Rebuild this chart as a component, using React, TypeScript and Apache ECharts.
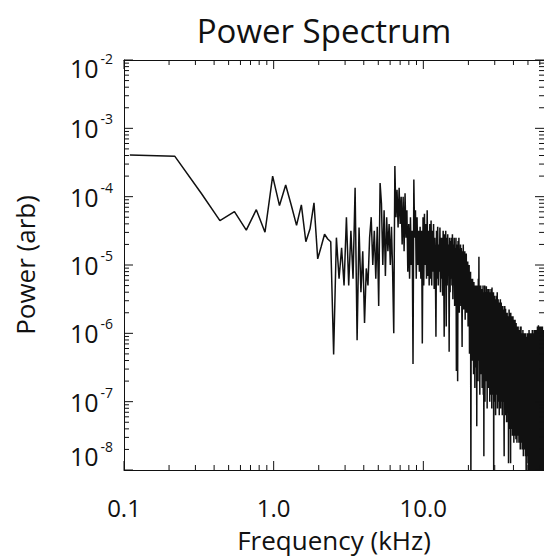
import React, { useEffect, useRef } from "react";
import * as echarts from "echarts";

// Frequency resolution of the spectrum (kHz per bin); bin k sits at k * FREQ_STEP_KHZ
const FREQ_STEP_KHZ = 0.109375;

// log10 of the power (arb) for bins 1..585
const logPower: number[] = [
  // 1-12
  -3.39, -3.41, -3.95, -4.35, -4.22, -4.49, -4.19, -4.52, -3.7, -4.13, -3.83, -4.13,
  // 13-21
  -4.42, -4.12, -4.66, -4.47, -4.09, -4.91, -4.73, -4.55, -4.62,
  // 22-30
  -4.66, -6.31, -4.6, -5.2, -4.75, -5.3, -4.3, -5.3, -4.5,
  // 31-40
  -5.2, -3.87, -6.1, -4.45, -5.4, -4.8, -5.85, -5.05, -5.3, -4.6,
  // 41-50
  -4.3, -5.0, -4.5, -5.2, -4.44, -5.6, -3.8, -4.1, -5.0, -4.2,
  // 51-60
  -5.16, -4.3, -4.8, -4.4, -5.0, -4.44, -5.1, -6.0, -3.55, -4.3,
  // 61-70
  -3.9, -4.45, -3.87, -4.4, -4.0, -4.7, -4.0, -4.8, -3.95, -4.6,
  // 71-80
  -4.2, -5.1, -4.4, -5.2, -4.3, -5.0, -4.5, -6.45, -3.75, -4.6,
  // 81-90
  -4.2, -5.2, -4.3, -5.0, -4.5, -5.1, -4.44, -5.2, -4.5, -6.15,
  // 91-100
  -4.3, -5.3, -4.25, -5.0, -4.4, -5.2, -4.2, -5.16, -4.5, -5.3,
  // 101-110
  -4.4, -5.2, -4.35, -5.3, -4.5, -5.1, -4.4, -5.35, -4.6, -5.0,
  // 111-120
  -6.05, -4.5, -5.2, -4.44, -5.3, -4.7, -5.1, -4.45, -5.4, -4.6,
  // 121-130
  -5.2, -4.6, -5.45, -4.5, -5.0, -6.05, -4.55, -5.3, -4.5, -5.9,
  // 131-140
  -4.6, -5.3, -4.55, -5.1, -4.7, -6.27, -4.6, -5.4, -4.65, -5.2,
  // 141-150
  -4.6, -5.3, -4.55, -5.5, -4.7, -5.2, -4.6, -5.6, -4.75, -5.3,
  // 151-160
  -4.6, -6.55, -4.7, -5.4, -6.7, -4.65, -5.5, -4.6, -5.7, -4.8,
  // 161-170
  -5.3, -4.7, -5.6, -4.75, -5.4, -6.2, -4.8, -5.5, -4.7, -5.65,
  // 171-180
  -4.85, -5.3, -4.8, -5.8, -4.9, -5.4, -4.83, -5.7, -5.0, -5.5,
  // 181-190
  -4.95, -5.9, -5.1, -5.6, -5.0, -6.3, -5.15, -5.7, -5.1, -8.3,
  // 191-200
  -5.2, -6.0, -5.3, -6.4, -5.2, -6.1, -5.35, -6.6, -5.25, -6.2,
  // 201-210
  -5.3, -6.8, -5.4, -6.3, -5.3, -6.5, -5.4, -7.36, -5.3, -6.2,
  // 211-220
  -5.35, -6.7, -5.2, -6.0, -4.88, -6.4, -5.3, -6.9, -5.4, -6.3,
  // 221-230
  -5.3, -6.6, -5.4, -6.2, -5.35, -6.8, -5.5, -6.4, -5.3, -6.9,
  // 231-240
  -5.4, -7.8, -5.45, -6.5, -5.3, -7.0, -5.5, -6.4, -5.4, -6.7,
  // 241-250
  -5.31, -6.3, -5.5, -7.1, -5.4, -6.5, -5.35, -6.8, -5.5, -6.6,
  // 251-260
  -5.35, -6.6, -5.5, -7.0, -5.4, -6.4, -5.5, -6.9, -5.35, -6.5,
  // 261-270
  -5.6, -7.1, -5.33, -6.7, -5.5, -6.9, -5.6, -6.5, -5.4, -8.3,
  // 271-280
  -5.5, -6.8, -5.6, -7.0, -5.45, -6.6, -5.6, -7.2, -5.5, -6.7,
  // 281-290
  -5.7, -6.9, -5.45, -6.5, -5.4, -7.1, -5.6, -6.8, -5.5, -7.0,
  // 291-300
  -5.7, -6.6, -5.55, -7.2, -5.6, -6.9, -5.7, -6.7, -5.5, -7.1,
  // 301-310
  -5.65, -6.8, -5.55, -7.0, -5.7, -6.6, -5.6, -7.2, -5.75, -6.9,
  // 311-320
  -5.6, -7.0, -5.8, -6.7, -5.65, -7.3, -7.8, -5.7, -6.8, -5.6,
  // 321-330
  -7.1, -5.8, -6.9, -5.64, -7.2, -5.8, -6.8, -5.7, -7.3, -5.85,
  // 331-340
  -6.9, -5.7, -7.1, -5.9, -6.8, -5.75, -7.3, -5.8, -7.9, -5.9,
  // 341-350
  -7.2, -5.65, -7.0, -5.8, -7.4, -5.7, -6.9, -5.9, -7.3, -7.9,
  // 351-360
  -5.7, -7.1, -5.85, -7.4, -5.75, -7.0, -5.9, -7.3, -5.8, -7.5,
  // 361-370
  -5.9, -7.1, -5.75, -7.4, -5.95, -7.0, -5.8, -7.6, -5.9, -7.2,
  // 371-380
  -5.85, -7.4, -6.0, -7.1, -5.8, -7.5, -5.95, -7.2, -5.9, -7.55,
  // 381-390
  -5.85, -7.3, -6.0, -7.0, -5.9, -7.6, -6.05, -7.2, -5.9, -7.4,
  // 391-400
  -6.0, -7.1, -5.9, -7.5, -6.1, -7.3, -5.95, -7.6, -6.0, -7.2,
  // 401-410
  -6.1, -7.5, -5.95, -7.3, -6.05, -7.7, -5.9, -7.2, -6.1, -7.5,
  // 411-420
  -5.9, -7.4, -6.1, -7.6, -6.0, -7.3, -6.15, -7.7, -6.0, -7.4,
  // 421-430
  -6.1, -7.6, -5.95, -7.3, -6.15, -7.8, -6.05, -7.5, -6.1, -7.4,
  // 431-440
  -6.0, -7.7, -6.2, -7.4, -6.05, -7.6, -6.2, -7.5, -6.0, -7.8,
  // 441-450
  -6.1, -7.5, -6.2, -7.7, -8.3, -6.05, -7.6, -6.2, -7.4, -6.1,
  // 451-460
  -7.8, -6.0, -7.6, -6.2, -7.5, -6.05, -7.9, -6.15, -7.6, -8.3,
  // 461-470
  -6.0, -7.7, -6.1, -7.9, -5.95, -7.6, -6.15, -8.0, -6.05, -7.7,
  // 471-480
  -6.2, -7.9, -6.0, -7.6, -6.1, -8.1, -6.05, -7.8, -6.2, -7.7,
  // 481-490
  -6.0, -8.0, -6.15, -7.6, -6.05, -7.9, -6.2, -7.7, -5.95, -8.2,
  // 491-500
  -6.1, -7.8, -6.2, -7.7, -6.0, -8.0, -6.15, -7.6, -6.05, -7.9,
  // 501-510
  -6.2, -7.8, -5.95, -8.1, -6.1, -7.7, -6.2, -8.0, -6.0, -7.8,
  // 511-520
  -6.15, -8.2, -5.95, -7.7, -6.1, -8.0, -6.0, -7.8, -6.2, -8.3,
  // 521-530
  -5.95, -7.7, -6.1, -8.1, -6.0, -7.9, -6.15, -7.7, -5.9, -8.0,
  // 531-540
  -6.05, -7.8, -5.9, -8.2, -6.1, -7.7, -5.88, -8.0, -6.0, -7.9,
  // 541-550
  -6.1, -8.3, -5.95, -7.8, -6.05, -8.0, -5.9, -7.7, -6.1, -8.1,
  // 551-560
  -6.0, -7.9, -5.9, -8.2, -6.05, -7.8, -5.95, -8.0, -6.1, -7.7,
  // 561-570
  -5.9, -8.3, -6.0, -7.9, -6.1, -8.0, -5.95, -7.8, -6.05, -8.2,
  // 571-580
  -5.9, -7.9, -6.1, -8.0, -6.0, -7.8, -5.95, -8.1, -6.05, -7.9,
  // 581-585
  -6.0, -8.2, -5.95, -7.8, -6.05,
];

// Axis ranges and ticks
const X_MIN = 0.1;
const X_MAX = 64;
const Y_MIN = 1e-8;
const Y_MAX = 1e-2;
const xMajorTicks = [0.1, 1, 10];
const xTickLabels = ["0.1", "1.0", "10.0"];
const xMinorTicks = [0.2, 0.3, 0.4, 0.5, 0.6, 0.7, 0.8, 0.9, 2, 3, 4, 5, 6, 7, 8, 9, 20, 30, 40, 50, 60];
const yMajorTicks = [1e-8, 1e-7, 1e-6, 1e-5, 1e-4, 1e-3, 1e-2];
const yTickExponents = ["-8", "-7", "-6", "-5", "-4", "-3", "-2"];
const yMinorTicks = [
  2e-8, 3e-8, 4e-8, 5e-8, 6e-8, 7e-8, 8e-8, 9e-8,
  2e-7, 3e-7, 4e-7, 5e-7, 6e-7, 7e-7, 8e-7, 9e-7,
  2e-6, 3e-6, 4e-6, 5e-6, 6e-6, 7e-6, 8e-6, 9e-6,
  2e-5, 3e-5, 4e-5, 5e-5, 6e-5, 7e-5, 8e-5, 9e-5,
  2e-4, 3e-4, 4e-4, 5e-4, 6e-4, 7e-4, 8e-4, 9e-4,
  2e-3, 3e-3, 4e-3, 5e-3, 6e-3, 7e-3, 8e-3, 9e-3,
];

const FONT = '"Open Sans", "Noto Sans", sans-serif';
const INK = "#111";

function nearestIndex(ticks: number[], v: number): number {
  let best = 0;
  let bestD = Infinity;
  ticks.forEach((t, i) => {
    const d = Math.abs(Math.log10(t) - Math.log10(v));
    if (d < bestD) {
      bestD = d;
      best = i;
    }
  });
  return best;
}

// Inward tick marks on all four sides, placed through the axes' own scales
function tickSeries(values: number[], dir: "x" | "y", len: number) {
  return {
    type: "custom",
    coordinateSystem: "cartesian2d",
    xAxisIndex: 0,
    yAxisIndex: 0,
    silent: true,
    clip: false,
    z: 5,
    data: values.map((v) => (dir === "x" ? [v, Y_MIN] : [X_MIN, v])),
    renderItem: (_params: any, api: any) => {
      const style = { stroke: INK, lineWidth: 1 };
      if (dir === "x") {
        const v = api.value(0);
        const b = api.coord([v, Y_MIN]);
        const t = api.coord([v, Y_MAX]);
        return {
          type: "group",
          children: [
            { type: "line", shape: { x1: b[0], y1: b[1], x2: b[0], y2: b[1] - len }, style },
            { type: "line", shape: { x1: t[0], y1: t[1], x2: t[0], y2: t[1] + len }, style },
          ],
        };
      }
      const v = api.value(1);
      const l = api.coord([X_MIN, v]);
      const r = api.coord([X_MAX, v]);
      return {
        type: "group",
        children: [
          { type: "line", shape: { x1: l[0], y1: l[1], x2: l[0] + len, y2: l[1] }, style },
          { type: "line", shape: { x1: r[0], y1: r[1], x2: r[0] - len, y2: r[1] }, style },
        ],
      };
    },
  };
}

export default function App() {
  const ref = useRef<HTMLDivElement>(null);

  useEffect(() => {
    if (!ref.current) return;
    const chart = echarts.init(ref.current, null, { renderer: "svg" });

    const data = logPower.map((e, i) => [(i + 1) * FREQ_STEP_KHZ, Math.pow(10, e)]);
    const lineStyle = { color: INK, width: 1 };

    const xAxisCommon = {
      type: "log" as const,
      logBase: 10,
      min: X_MIN,
      max: X_MAX,
      gridIndex: 0,
      axisLine: { show: true, onZero: false, lineStyle },
      axisTick: { show: false },
      splitLine: { show: false },
      minorTick: { show: false },
      minorSplitLine: { show: false },
    };
    const yAxisCommon = {
      type: "log" as const,
      logBase: 10,
      min: Y_MIN,
      max: Y_MAX,
      gridIndex: 0,
      axisLine: { show: true, onZero: false, lineStyle },
      axisTick: { show: false },
      splitLine: { show: false },
      minorTick: { show: false },
      minorSplitLine: { show: false },
    };

    const richBase = { fontFamily: FONT, color: INK };

    const option: any = {
      animation: false,
      backgroundColor: "#fff",
      title: {
        text: "Power Spectrum",
        left: 324,
        top: 14,
        padding: 0,
        textAlign: "center",
        textStyle: { fontSize: 33, fontWeight: "normal", fontFamily: FONT, color: INK },
      },
      grid: { left: 124, top: 60, width: 420, height: 417, containLabel: false },
      xAxis: [
        {
          ...xAxisCommon,
          position: "bottom",
          axisLabel: {
            show: true,
            customValues: xMajorTicks,
            formatter: (v: number) => xTickLabels[nearestIndex(xMajorTicks, v)],
            margin: 27,
            fontSize: 24,
            lineHeight: 20,
            fontFamily: FONT,
            color: INK,
          },
          name: "Frequency (kHz)",
          nameLocation: "middle",
          nameGap: 57,
          nameTextStyle: { fontSize: 26, lineHeight: 26, fontFamily: FONT, color: INK },
        },
        { ...xAxisCommon, position: "top", axisLabel: { show: false } },
      ],
      yAxis: [
        {
          ...yAxisCommon,
          position: "left",
          axisLabel: {
            show: true,
            customValues: yMajorTicks,
            margin: 11,
            formatter: (v: number) => {
              const i = nearestIndex(yMajorTicks, v);
              const exp = yTickExponents[i];
              if (i === yMajorTicks.length - 1) return `{bt|10}{st|${exp}}`;
              if (i === 0) return `{bb|10}{s|${exp}}`;
              return `{b|10}{s|${exp}}`;
            },
            rich: {
              b: { ...richBase, fontSize: 25, padding: [4, 0, 4, 0] },
              bt: { ...richBase, fontSize: 25, padding: [20, 0, 4, 0] },
              bb: { ...richBase, fontSize: 25, padding: [4, 0, 32, 0] },
              s: { ...richBase, fontSize: 14, padding: [0, 0, 0, 2], verticalAlign: "top" },
              st: { ...richBase, fontSize: 14, padding: [16, 0, 0, 2], verticalAlign: "top" },
            },
          },
          name: "Power (arb)",
          nameLocation: "middle",
          nameGap: 86,
          nameRotate: 90,
          nameTextStyle: { fontSize: 26, fontFamily: FONT, color: INK },
        },
        { ...yAxisCommon, position: "right", axisLabel: { show: false } },
      ],
      series: [
        {
          type: "line",
          xAxisIndex: 0,
          yAxisIndex: 0,
          data,
          showSymbol: false,
          symbol: "none",
          clip: true,
          lineStyle: { color: INK, width: 1.5 },
          emphasis: { disabled: true },
          z: 3,
        },
        tickSeries(xMajorTicks, "x", 9),
        tickSeries(xMinorTicks, "x", 5),
        tickSeries(yMajorTicks, "y", 9),
        tickSeries(yMinorTicks, "y", 5),
      ],
    };

    chart.setOption(option);
    return () => chart.dispose();
  }, []);

  return (
    <div
      ref={ref}
      style={{ position: "absolute", left: 0, top: 0, width: 544, height: 558, background: "#fff" }}
    />
  );
}
